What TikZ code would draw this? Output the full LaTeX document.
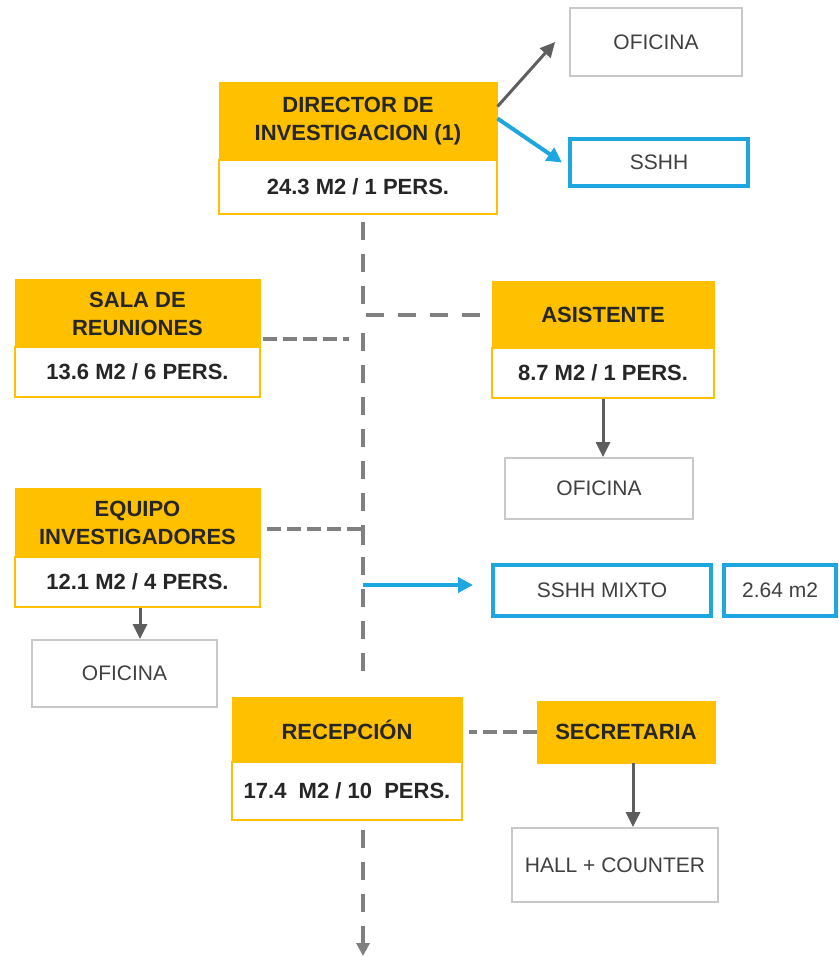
\documentclass[tikz,border=0pt]{standalone}
\usepackage{fontspec}
\setmainfont{Liberation Sans}
\usetikzlibrary{arrows.meta}
\definecolor{ybox}{HTML}{FFC000}
\definecolor{bblue}{HTML}{1DA6E0}
\definecolor{garr}{HTML}{5E5E5E}
\definecolor{gdash}{HTML}{808080}
\definecolor{gline}{HTML}{C8C8C8}
\definecolor{txt}{HTML}{262626}
\definecolor{txtg}{HTML}{404040}
\tikzset{
  hdr/.style={draw=ybox, fill=ybox, line width=1pt, inner sep=0pt, align=center,
    text=txt, font=\bfseries\fontsize{22}{28}\selectfont},
  subbox/.style={draw=ybox, fill=white, line width=2pt, inner sep=0pt, align=center,
    text=txt, font=\bfseries\fontsize{22}{26}\selectfont},
  gbox/.style={draw=gline, fill=white, line width=1.8pt, inner sep=0pt, align=center,
    text=txtg, font=\fontsize{21}{26}\selectfont},
  bbox/.style={draw=bblue, fill=white, line width=4pt, inner sep=0pt, align=center,
    text=txtg, font=\fontsize{21}{26}\selectfont},
  garrow/.style={draw=garr, line width=3pt, -{Triangle[length=15pt,width=14pt]}},
  barrow/.style={draw=bblue, line width=4pt, -{Triangle[length=15pt,width=15pt]}},
  dashv/.style={draw=gdash, line width=4pt, dash pattern=on 18pt off 14pt},
  dashh/.style={draw=gdash, line width=3.5pt, dash pattern=on 14pt off 6pt},
}
\begin{document}
\begin{tikzpicture}[x=1pt,y=-1pt]
\useasboundingbox (0,0) rectangle (838,957);
% nodes
\node[gbox, minimum width=172pt, minimum height=68pt] (ofi1) at (656,42) {OFICINA};
\node[hdr, minimum width=278pt, minimum height=77pt] (dirH) at (358,121.5) {DIRECTOR DE\\INVESTIGACION (1)};
\node[subbox, minimum width=278pt, minimum height=54pt] (dirS) at (358,187) {24.3 M2 / 1 PERS.};
\node[bbox, minimum width=178pt, minimum height=47pt] (sshh1) at (659,162.5) {SSHH};
\node[hdr, minimum width=245pt, minimum height=67pt] (salaH) at (137.5,313.5) {SALA DE\\REUNIONES};
\node[subbox, minimum width=245pt, minimum height=50pt] (salaS) at (137.5,372) {13.6 M2 / 6 PERS.};
\node[hdr, minimum width=222pt, minimum height=66pt] (asisH) at (603,315) {ASISTENTE};
\node[subbox, minimum width=222pt, minimum height=50pt] (asisS) at (603,373) {8.7 M2 / 1 PERS.};
\node[gbox, minimum width=188pt, minimum height=61pt] (ofi2) at (599,488.5) {OFICINA};
\node[hdr, minimum width=245pt, minimum height=69pt] (eqH) at (137.5,522.5) {EQUIPO\\INVESTIGADORES};
\node[subbox, minimum width=245pt, minimum height=50pt] (eqS) at (137.5,582) {12.1 M2 / 4 PERS.};
\node[gbox, minimum width=185pt, minimum height=67pt] (ofi3) at (124.5,673.5) {OFICINA};
\node[bbox, minimum width=218pt, minimum height=51pt] (sshhM) at (602,590.5) {SSHH MIXTO};
\node[bbox, minimum width=112pt, minimum height=51pt] (m2) at (780,590.5) {2.64 m2};
\node[hdr, minimum width=230pt, minimum height=65pt] (recH) at (347,729.5) {RECEPCIÓN};
\node[subbox, minimum width=230pt, minimum height=58pt] (recS) at (347,791) {17.4\ \ M2 / 10\ \ PERS.};
\node[hdr, minimum width=178pt, minimum height=62pt] (secH) at (626,732) {SECRETARIA};
\node[gbox, minimum width=206pt, minimum height=74pt] (hall) at (615,865) {HALL + COUNTER};
% free ends
\coordinate (sp1a) at (363,222);
\coordinate (sp2a) at (363,333);
\coordinate (sp2b) at (363,682);
\coordinate (salaEnd) at (349,339);
\coordinate (salaStart) at (263,339);
\coordinate (eqStart) at (267,529);
\coordinate (eqEnd) at (363,545);
\coordinate (blStart) at (363,585);
\coordinate (blEnd) at (473,585);
\coordinate (secArr) at (633,763);
\coordinate (recDash) at (469,732);
\coordinate (sp3a) at (363,830);
\coordinate (sp3b) at (363,956);
% connectors
\draw[garrow] ([yshift=-24pt]dirH.north east) -- ([xshift=-14pt]ofi1.west);
\draw[barrow] ([yshift=-36pt]dirH.north east) -- ([xshift=-6pt]sshh1.west);
\draw[dashv] (sp1a) |- (asisH.west);
\draw[dashh] (salaStart) -- (salaEnd);
\draw[dashv] (sp2a) -- (sp2b);
\draw[dashh] (eqStart) -| (eqEnd);
\draw[barrow] (blStart) -- (blEnd);
\draw[garrow] (asisS.south) -- (asisS.south |- ofi2.north);
\draw[garrow] ([xshift=2.5pt]eqS.south) -- ([xshift=2.5pt]eqS.south |- ofi3.north);
\draw[dashh] (secH.west) -- (recDash);
\draw[garrow] (secArr) -- (secArr |- hall.north);
\draw[dashv, -{Triangle[length=13pt,width=13pt]}] (sp3a) -- (sp3b);
\end{tikzpicture}
\end{document}
